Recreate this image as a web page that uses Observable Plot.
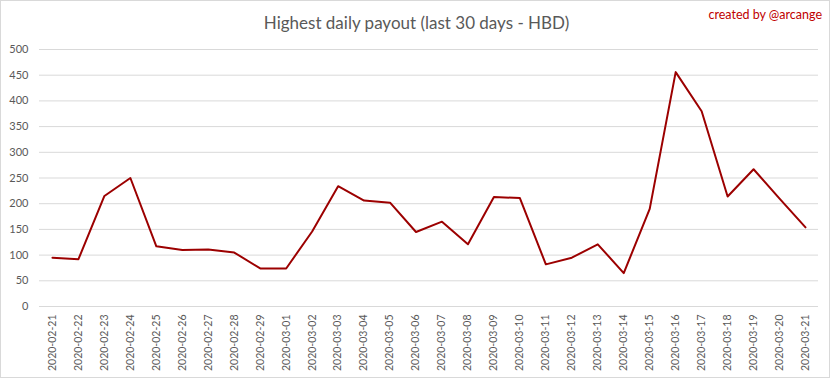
<!DOCTYPE html>
<html>
<head>
<meta charset="utf-8">
<script src="https://cdn.jsdelivr.net/npm/d3@7"></script>
<script src="https://cdn.jsdelivr.net/npm/@observablehq/plot@0.6"></script>
<style>
  body { margin: 0; background: #fff; }
  #wrap { position: relative; width: 833px; height: 379px; overflow: hidden; }
  #border { position: absolute; left: 0; top: 0; width: 830px; height: 378px; border: 1px solid #d9d9d9; box-sizing: border-box; pointer-events: none; }
  #title { position: absolute; left: 0; width: 833px; top: 12px; text-align: center; font-family: Lato, sans-serif; font-weight: 400; font-size: 17px; color: #595959; }
  #credit { position: absolute; right: 11px; top: 7px; font-family: Lato, sans-serif; font-size: 12.5px; color: #c00000; }
</style>
</head>
<body>
<div id="wrap">
  <div id="chart"></div>
  <div id="title">Highest daily payout (last 30 days - HBD)</div>
  <div id="credit">created by @arcange</div>
  <div id="border"></div>
</div>
<script>
const dates = [
  "2020-02-21","2020-02-22","2020-02-23","2020-02-24","2020-02-25","2020-02-26","2020-02-27","2020-02-28","2020-02-29","2020-03-01",
  "2020-03-02","2020-03-03","2020-03-04","2020-03-05","2020-03-06","2020-03-07","2020-03-08","2020-03-09","2020-03-10","2020-03-11",
  "2020-03-12","2020-03-13","2020-03-14","2020-03-15","2020-03-16","2020-03-17","2020-03-18","2020-03-19","2020-03-20","2020-03-21"
];
const payouts = [
  95, 92, 215, 250, 117, 110, 111, 105, 74, 74,
  146, 234, 206, 202, 145, 165, 121, 213, 211, 82,
  95, 121, 65, 190, 456, 380, 214, 267, 210, 154
];
const yTicks = [0, 50, 100, 150, 200, 250, 300, 350, 400, 450, 500];

const data = dates.map((d, i) => ({date: d, value: payouts[i]}));

const chart = Plot.plot({
  width: 833,
  height: 379,
  marginTop: 49,
  marginBottom: 73,
  marginLeft: 39,
  marginRight: 15,
  style: {fontFamily: "Lato, sans-serif", color: "#595959", background: "transparent"},
  x: {type: "point", domain: dates, padding: 0.5, round: false, label: null},
  y: {domain: [0, 500], label: null},
  marks: [
    Plot.gridY(yTicks, {stroke: "#d9d9d9", strokeOpacity: 1, strokeWidth: 1}),
    Plot.axisY({ticks: yTicks, tickSize: 0, tickPadding: 11, fontSize: 11, fill: "#595959", label: null}),
    Plot.axisX({tickSize: 0, tickRotate: -90, tickPadding: 8, fontSize: 10.5, fill: "#595959", label: null}),
    Plot.line(data, {x: "date", y: "value", stroke: "#9c0000", strokeWidth: 2})
  ]
});
document.getElementById("chart").appendChild(chart);
</script>
</body>
</html>
